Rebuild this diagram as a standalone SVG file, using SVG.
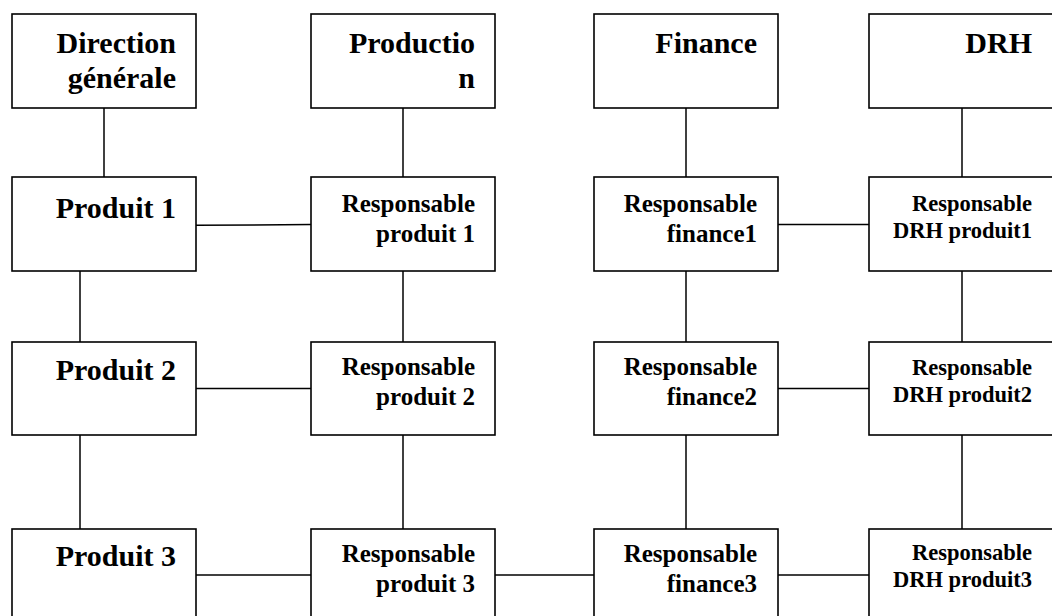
<svg xmlns="http://www.w3.org/2000/svg" width="1052" height="616" viewBox="0 0 1052 616">
<style>
.box{fill:#fff;stroke:#000;stroke-width:1.6}
.ln{stroke:#000;stroke-width:1.5;fill:none}
text{font-family:"Liberation Serif","Times New Roman",serif;font-weight:bold;fill:#000;text-anchor:end}
.big{font-size:30px}
.mid{font-size:25px}
.sm{font-size:22.5px}
</style>
<rect width="1052" height="616" fill="#fff"/>
<g id="connectors">
<line class="ln" x1="104" y1="108" x2="104" y2="177"/>
<line class="ln" x1="403" y1="108" x2="403" y2="177"/>
<line class="ln" x1="686" y1="108" x2="686" y2="177"/>
<line class="ln" x1="962" y1="108" x2="962" y2="177"/>
<line class="ln" x1="196" y1="225.3" x2="311" y2="224.5"/>
<line class="ln" x1="778" y1="224.5" x2="869" y2="224.5"/>
<line class="ln" x1="80" y1="271" x2="80" y2="342"/>
<line class="ln" x1="403" y1="271" x2="403" y2="342"/>
<line class="ln" x1="686" y1="271" x2="686" y2="342"/>
<line class="ln" x1="962" y1="271" x2="962" y2="342"/>
<line class="ln" x1="196" y1="388.5" x2="311" y2="388.5"/>
<line class="ln" x1="778" y1="388.5" x2="869" y2="388.5"/>
<line class="ln" x1="80" y1="435" x2="80" y2="529"/>
<line class="ln" x1="403" y1="435" x2="403" y2="529"/>
<line class="ln" x1="686" y1="435" x2="686" y2="529"/>
<line class="ln" x1="962" y1="435" x2="962" y2="529"/>
<line class="ln" x1="196" y1="575" x2="311" y2="575"/>
<line class="ln" x1="495" y1="575" x2="594" y2="575"/>
<line class="ln" x1="778" y1="575" x2="869" y2="575"/>
</g>
<g id="direction"><rect class="box" x="12" y="14" width="184" height="94"/><text class="big" x="176" y="53">Direction</text><text class="big" x="176" y="88">générale</text></g>
<g id="production"><rect class="box" x="311" y="14" width="184" height="94"/><text class="big" x="475" y="53">Productio</text><text class="big" x="475" y="88">n</text></g>
<g id="finance"><rect class="box" x="594" y="14" width="184" height="94"/><text class="big" x="757" y="53">Finance</text></g>
<g id="drh"><rect class="box" x="869" y="14" width="184" height="94"/><text class="big" x="1032" y="53">DRH</text></g>
<g id="produit1"><rect class="box" x="12" y="177" width="184" height="94"/><text class="big" x="176" y="218">Produit 1</text></g>
<g id="resp-produit1"><rect class="box" x="311" y="177" width="184" height="94"/><text class="mid" x="475" y="212">Responsable</text><text class="mid" x="475" y="242">produit 1</text></g>
<g id="resp-finance1"><rect class="box" x="594" y="177" width="184" height="94"/><text class="mid" x="757" y="212">Responsable</text><text class="mid" x="757" y="242">finance1</text></g>
<g id="resp-drh1"><rect class="box" x="869" y="177" width="184" height="94"/><text class="sm" x="1032" y="211">Responsable</text><text class="sm" x="1032" y="238">DRH produit1</text></g>
<g id="produit2"><rect class="box" x="12" y="342" width="184" height="93"/><text class="big" x="176" y="380">Produit 2</text></g>
<g id="resp-produit2"><rect class="box" x="311" y="342" width="184" height="93"/><text class="mid" x="475" y="375">Responsable</text><text class="mid" x="475" y="405">produit 2</text></g>
<g id="resp-finance2"><rect class="box" x="594" y="342" width="184" height="93"/><text class="mid" x="757" y="375">Responsable</text><text class="mid" x="757" y="405">finance2</text></g>
<g id="resp-drh2"><rect class="box" x="869" y="342" width="184" height="93"/><text class="sm" x="1032" y="375">Responsable</text><text class="sm" x="1032" y="402">DRH produit2</text></g>
<g id="produit3"><rect class="box" x="12" y="529" width="184" height="94"/><text class="big" x="176" y="566">Produit 3</text></g>
<g id="resp-produit3"><rect class="box" x="311" y="529" width="184" height="94"/><text class="mid" x="475" y="562">Responsable</text><text class="mid" x="475" y="592">produit 3</text></g>
<g id="resp-finance3"><rect class="box" x="594" y="529" width="184" height="94"/><text class="mid" x="757" y="562">Responsable</text><text class="mid" x="757" y="592">finance3</text></g>
<g id="resp-drh3"><rect class="box" x="869" y="529" width="184" height="94"/><text class="sm" x="1032" y="560">Responsable</text><text class="sm" x="1032" y="587">DRH produit3</text></g>
</svg>
